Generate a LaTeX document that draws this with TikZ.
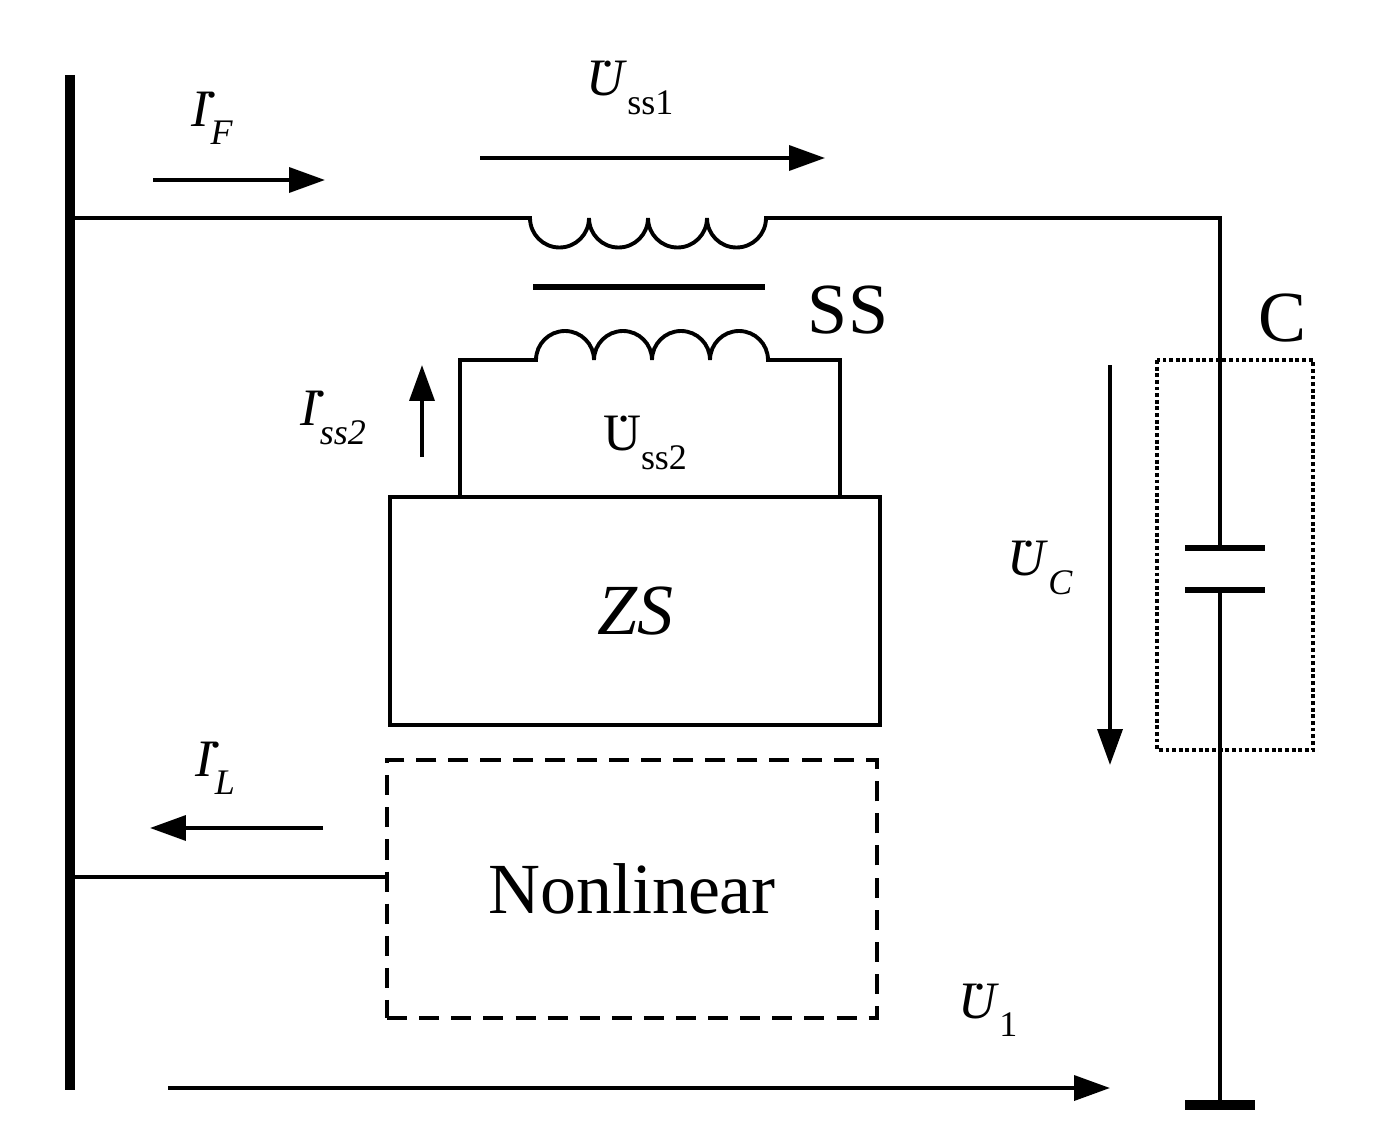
\documentclass[tikz,border=0pt]{standalone}
\usepackage{fontspec}
\setmainfont{Liberation Serif}
\usetikzlibrary{arrows.meta}
\usetikzlibrary{calc}
\newcommand{\dotq}[1]{\makebox[0pt][l]{\hspace{0.28em}\raisebox{0.55em}{.}}#1}
\newcommand{\subq}[1]{\raisebox{-0.35em}{\fontsize{26}{28}\selectfont #1}}
\tikzset{wire/.style={line width=2.8pt},
  flow/.style={line width=2.8pt,-{Triangle[length=26pt,width=18pt]}},
  lab/.style={font=\fontsize{38}{42}\selectfont},
  big/.style={font=\fontsize{52}{56}\selectfont}}
\begin{document}
\begin{tikzpicture}[x=0.7227pt,y=-0.7227pt]
        \useasboundingbox (0,0) rectangle (1384,1148);
        % bus and ground
        \draw[line width=7.5pt] (70,75) -- (70,1090);
        \draw[line width=7.5pt] (1185,1105) -- (1255,1105);
        % primary winding
        \coordinate (p1) at (530,218);
        \draw[wire] (70,218) -- (p1) arc(180:0:29.5) arc(180:0:29.5) arc(180:0:29.5) arc(180:0:29.5) -- (1220,218) -- (1220,548);
        \draw[wire] (1220,590) -- (1220,1105);
        \draw[line width=4pt] (533,287) -- (765,287);
        % secondary winding and ZS
        \node[draw, line width=2.8pt, minimum width=354pt, minimum height=165pt] (zs) at (635,611) {};
        \node[big] at (zs) {\itshape ZS};
        \draw[wire] (460,497) -- (460,360) -- (536,360) arc(180:360:29) arc(180:360:29) arc(180:360:29) arc(180:360:29) -- (840,360) -- (840,497);
        % nonlinear load
        \node[draw, line width=2.8pt, dash pattern=on 14.5pt off 8.7pt, minimum width=354pt, minimum height=186pt] (nl) at (632,889) {};
        \node[big] at (nl) {Nonlinear};
        \draw[wire] (70,877) -- (nl.west |- 0,877);
        % capacitor
        \draw[line width=4pt] (1185,548) -- (1265,548);
        \draw[line width=4pt] (1185,590) -- (1265,590);
        \draw[line width=2.8pt, dotted] (1157,360) rectangle (1313,750);
        % arrows
        \draw[flow] (153,180) -- (325,180);
        \draw[flow] (480,158) -- (825,158);
        \draw[flow] (422,457) -- (422,365);
        \draw[flow] (1110,365) -- (1110,765);
        \draw[flow] (323,828) -- (150,828);
        \draw[flow] (168,1088) -- (1110,1088);
        % labels
        \node[lab] at (212,118) {\dotq{\textit{I}}\subq{\textit{F}}};
        \node[lab] at (630,88) {\dotq{\textit{U}}\subq{ss1}};
        \node[big] at (848,310) {SS};
        \node[big] at (1282,318) {C};
        \node[lab] at (333,418) {\dotq{\textit{I}}\subq{\textit{ss2}}};
        \node[lab] at (645,443) {\dotq{U}\subq{ss2}};
        \node[lab] at (1040,568) {\dotq{\textit{U}}\subq{\textit{C}}};
        \node[lab] at (215,768) {\dotq{\textit{I}}\subq{\textit{L}}};
        \node[lab] at (988,1010) {\dotq{\textit{U}}\subq{1}};
\end{tikzpicture}
\end{document}
